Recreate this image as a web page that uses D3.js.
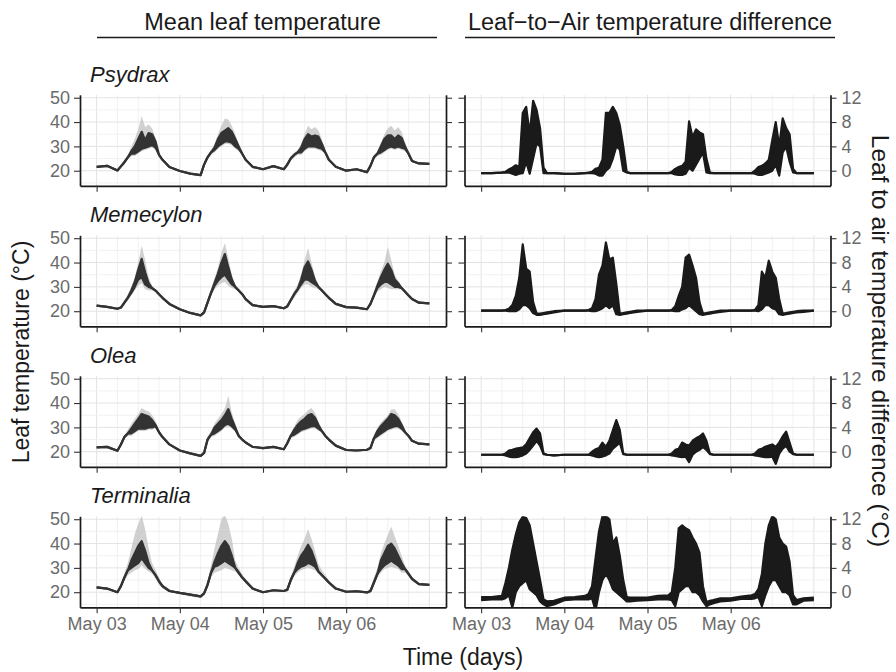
<!DOCTYPE html>
<html>
<head>
<meta charset="utf-8">
<script src="https://cdn.jsdelivr.net/npm/d3@7"></script>
<style>
  body { margin: 0; background: #fff; }
  text { font-family: "Liberation Sans", Arial, sans-serif; }
</style>
</head>
<body>
<script>
// hours since May 03 00:00 (same grid for every series)
const hours = [
  0, 3, 6, 7, 8, 9, 10, 11, 12, 13, 14, 15, 16, 17, 18, 19, 21,
  24, 27, 30, 31, 32, 33, 34, 35, 36, 37, 38, 39, 40, 41, 42, 43, 45,
  48, 51, 54, 55, 56, 57, 58, 59, 60, 61, 62, 63, 64, 65, 66, 67, 69,
  72, 75, 78, 79, 80, 81, 82, 83, 84, 85, 86, 87, 88, 89, 90, 91, 93,
  96];

const speciesNames = ["Psydrax", "Memecylon", "Olea", "Terminalia"];
const dayLabels = ["May 03", "May 04", "May 05", "May 06"];
const leafTicks = [20, 30, 40, 50];
const diffTicks = [0, 4, 8, 12];

// ---- Psydrax ----
const psydraxLo = [
  21.6,22.0,20.1,21.8,23.5,25.5,27.0,27.0,28.0,29.0,29.5,30.0,30.5,29.5,26.5,24.5,21.5,
  19.9,18.8,18.2,22.5,25.5,27.5,28.5,30.0,31.0,32.0,32.0,31.5,30.0,29.0,27.0,24.5,21.6,
  20.6,21.9,20.6,22.5,25.0,26.5,27.5,27.5,29.0,30.0,30.0,30.0,29.5,29.0,27.5,24.5,21.6,
  20.0,20.6,19.4,22.0,25.5,27.0,27.5,28.5,29.5,30.0,29.5,30.0,29.5,29.0,27.0,24.0,23.0,
  22.8];
const psydraxHi = [
  21.6,22.0,20.1,21.8,23.5,25.5,28.0,30.0,33.0,36.0,32.5,35.5,35.0,32.0,26.5,24.5,21.5,
  19.9,18.8,18.2,22.5,25.5,27.5,29.5,33.0,35.5,36.5,37.5,36.0,33.0,30.0,27.0,24.5,21.6,
  20.6,21.9,20.6,22.5,25.0,26.5,27.5,29.5,33.0,35.0,34.0,34.5,34.0,31.0,27.5,24.5,21.6,
  20.0,20.6,19.4,22.0,25.5,27.0,30.0,33.0,34.5,34.5,33.0,34.5,33.5,30.0,27.0,24.0,23.0,
  22.8];
const psydraxRibLo = [
  21.4,21.8,19.9,21.4,22.5,24.5,26.0,26.0,27.0,28.0,28.5,29.0,29.5,28.5,26.0,24.3,21.3,
  19.7,18.6,18.0,21.5,24.5,26.5,27.5,29.0,30.0,31.0,31.0,30.5,29.0,28.0,26.5,24.3,21.4,
  20.4,21.7,20.4,21.5,24.0,25.5,26.5,26.5,28.0,29.0,29.0,29.0,28.5,28.0,27.0,24.3,21.4,
  19.8,20.4,19.2,21.0,24.5,26.0,26.5,27.5,28.5,29.0,28.5,29.0,28.5,28.0,26.5,23.8,22.8,
  22.6];
const psydraxRibHi = [
  21.8,22.2,20.3,22.2,24.5,26.5,30.0,33.0,37.0,42.5,38.0,39.0,37.5,33.5,27.0,24.7,21.7,
  20.1,19.0,18.4,23.5,26.5,28.5,31.0,35.0,38.5,41.5,41.0,38.5,35.0,31.0,27.5,24.7,21.8,
  20.8,22.1,20.8,23.5,26.0,27.5,28.5,31.0,35.0,38.5,37.0,38.0,36.5,33.0,28.0,24.7,21.8,
  20.2,20.8,19.6,23.0,26.5,28.0,31.5,35.0,37.5,38.5,36.5,38.0,36.0,31.5,27.5,24.2,23.2,
  23.0];
const psydraxDiffLo = [
  -0.4,-0.4,-0.3,-0.3,-0.3,-0.5,-0.7,-0.5,-0.4,1.5,-0.5,2.0,4.5,4.0,-0.4,-0.4,-0.4,
  -0.5,-0.5,-0.4,-0.4,-0.4,-0.5,-0.8,-0.8,0.0,0.5,2.0,4.0,3.5,0.0,-0.3,-0.4,-0.4,
  -0.4,-0.4,-0.4,-0.4,-0.6,-0.7,-0.7,-0.5,0.5,0.0,1.0,2.0,3.0,-0.3,-0.4,-0.4,-0.4,
  -0.4,-0.4,-0.4,-0.5,-0.7,-0.7,-0.5,-0.3,0.0,1.0,-0.8,3.0,4.0,1.5,-0.3,-0.4,-0.4,
  -0.4];
const psydraxDiffHi = [
  -0.4,-0.4,-0.3,-0.2,0.2,0.5,0.9,0.6,9.5,10.5,6.0,11.5,10.0,7.0,0.5,-0.4,-0.4,
  -0.5,-0.5,-0.4,-0.3,-0.2,0.3,0.5,1.8,9.5,9.5,10.5,9.5,7.5,4.0,-0.2,-0.4,-0.4,
  -0.4,-0.4,-0.4,-0.2,0.3,0.6,0.8,1.5,8.1,5.5,6.8,6.3,6.0,2.0,-0.3,-0.4,-0.4,
  -0.4,-0.4,-0.4,0.0,0.6,0.8,1.2,1.8,5.0,8.0,4.0,8.6,7.0,6.0,0.3,-0.4,-0.4,
  -0.4];

// ---- Memecylon ----
const memecylonLo = [
  22.3,21.8,21.0,21.5,23.5,25.5,27.5,30.0,33.0,34.0,31.0,30.0,29.5,28.5,27.0,25.5,23.0,
  20.8,19.3,18.3,19.5,23.5,27.5,30.5,32.5,34.0,35.0,33.0,31.0,30.0,28.5,27.0,25.0,22.5,
  21.8,22.1,21.2,22.0,24.5,27.0,29.0,31.0,33.0,33.0,32.0,31.0,30.0,28.5,27.0,25.5,23.0,
  21.7,21.5,20.8,23.0,26.5,29.5,31.0,32.0,32.0,31.0,30.0,30.0,29.5,28.0,26.5,25.0,23.5,
  23.2];
const memecylonHi = [
  22.3,21.8,21.0,21.5,23.5,25.5,28.5,32.0,37.0,41.5,36.0,31.5,29.5,28.5,27.0,25.5,23.0,
  20.8,19.3,18.3,19.5,23.5,27.5,31.5,35.5,40.0,43.5,38.0,33.0,30.0,28.5,27.0,25.0,22.5,
  21.8,22.1,21.2,22.0,24.5,27.0,29.0,33.0,38.0,40.5,37.0,32.5,30.0,28.5,27.0,25.5,23.0,
  21.7,21.5,20.8,23.0,26.5,30.5,34.0,37.0,39.5,37.0,33.0,31.5,29.5,28.0,26.5,25.0,23.5,
  23.2];
const memecylonRibLo = [
  22.1,21.6,20.8,21.0,22.5,24.5,26.5,28.5,30.5,31.5,29.0,28.5,28.5,28.0,26.7,25.3,22.8,
  20.6,19.1,18.1,18.5,22.0,26.0,29.0,30.5,31.5,32.0,30.5,29.5,29.0,28.0,26.7,24.8,22.3,
  21.6,21.9,21.0,21.0,23.5,25.5,27.5,29.5,31.0,31.0,30.0,29.5,29.0,28.0,26.7,25.3,22.8,
  21.5,21.3,20.6,22.0,25.0,28.0,29.0,30.0,29.5,29.0,29.0,29.0,29.0,27.5,26.2,24.8,23.3,
  23.0];
const memecylonRibHi = [
  22.5,22.0,21.2,22.0,24.5,27.0,30.0,34.0,40.0,47.0,41.0,34.0,30.5,29.0,27.3,25.7,23.2,
  21.0,19.5,18.5,20.5,25.0,29.0,33.5,38.0,44.0,48.0,42.0,35.0,31.0,29.0,27.3,25.2,22.7,
  22.0,22.3,21.4,23.0,25.5,28.5,31.0,35.0,41.0,46.0,40.0,34.5,31.0,29.0,27.3,25.7,23.2,
  21.9,21.7,21.0,24.0,28.0,32.0,36.5,40.0,46.5,41.0,35.0,32.5,30.0,28.5,26.8,25.2,23.7,
  23.4];
const memecylonDiffLo = [
  0.1,0.1,0.1,0.1,0.0,0.0,0.0,0.3,1.0,1.0,0.5,-0.3,-0.6,-0.6,-0.5,-0.4,-0.2,
  0.1,0.1,0.1,0.1,0.0,0.0,0.2,0.5,1.0,0.5,1.0,-0.5,-0.6,-0.5,-0.4,-0.3,-0.1,
  0.1,0.1,0.1,0.1,0.0,0.0,0.3,0.5,1.0,0.5,0.0,-0.5,-0.6,-0.5,-0.4,-0.3,-0.1,
  0.1,0.1,0.1,0.1,0.0,0.3,1.0,1.0,0.5,0.3,-0.5,-0.6,-0.5,-0.4,-0.3,-0.2,-0.1,
  0.1];
const memecylonDiffHi = [
  0.1,0.1,0.1,0.2,0.4,1.0,2.5,5.5,11.0,7.0,6.5,1.5,-0.4,-0.4,-0.3,-0.2,0.0,
  0.1,0.1,0.1,0.2,0.5,2.0,6.0,7.5,11.3,8.5,8.8,4.5,-0.4,-0.3,-0.2,-0.1,0.1,
  0.1,0.1,0.1,0.2,0.8,2.5,4.0,8.8,9.3,7.5,5.5,1.5,-0.4,-0.3,-0.2,-0.1,0.1,
  0.1,0.1,0.1,0.2,1.0,6.5,5.5,8.3,6.5,5.5,2.0,-0.4,-0.3,-0.2,-0.1,0.0,0.1,
  0.1];

// ---- Olea ----
const oleaLo = [
  21.8,22.0,20.4,23.0,26.0,27.5,27.5,28.5,29.5,29.5,29.5,30.0,30.0,30.5,28.0,26.0,23.0,
  20.5,19.3,18.3,19.5,25.0,27.0,27.5,28.5,29.5,31.0,31.5,30.5,29.0,26.5,25.0,23.8,22.0,
  21.5,22.0,21.0,23.5,26.5,27.0,28.0,29.0,29.5,30.0,30.5,30.5,29.5,28.5,26.5,25.0,22.5,
  20.7,20.5,20.8,21.5,25.5,26.5,27.5,28.5,29.5,30.0,30.5,30.5,29.5,28.0,26.5,24.5,23.3,
  23.0];
const oleaHi = [
  21.8,22.0,20.4,23.0,26.0,27.5,29.5,31.5,33.5,35.5,35.0,34.5,33.0,31.0,28.0,26.0,23.0,
  20.5,19.3,18.3,19.5,25.0,27.0,30.0,31.5,33.0,35.0,37.5,33.5,30.0,26.5,25.0,23.8,22.0,
  21.5,22.0,21.0,23.5,26.5,29.0,31.0,32.5,33.5,35.0,35.5,34.0,31.0,28.5,26.5,25.0,22.5,
  20.7,20.5,20.8,21.5,25.5,28.5,30.5,32.0,33.5,35.5,35.0,33.5,31.0,28.0,26.5,24.5,23.3,
  23.0];
const oleaRibLo = [
  21.6,21.8,20.2,22.0,25.0,26.5,26.5,27.5,28.5,28.5,28.5,29.0,29.0,29.5,27.5,25.8,22.8,
  20.3,19.1,18.1,18.5,23.5,26.0,26.5,27.5,28.5,30.0,30.5,29.5,28.5,26.0,24.8,23.6,21.8,
  21.3,21.8,20.8,22.5,25.5,26.0,27.0,28.0,28.5,29.0,29.5,29.5,28.5,28.0,26.2,24.8,22.3,
  20.5,20.3,20.6,20.5,24.5,25.5,26.5,27.5,28.5,29.0,29.5,29.5,28.5,27.5,26.2,24.3,23.1,
  22.8];
const oleaRibHi = [
  22.0,22.2,20.6,24.0,27.0,29.0,31.5,33.5,35.5,38.0,37.0,36.5,35.0,32.5,28.5,26.2,23.2,
  20.7,19.5,18.5,20.5,26.5,28.5,31.5,33.5,35.5,38.0,43.0,36.0,31.5,27.0,25.2,24.0,22.2,
  21.7,22.2,21.2,24.5,27.5,30.5,33.0,34.5,35.5,37.0,38.0,36.0,32.5,29.0,26.8,25.2,22.7,
  20.9,20.7,21.0,22.5,26.5,30.0,32.0,33.5,35.0,37.5,37.5,35.5,32.5,29.0,26.8,24.7,23.5,
  23.2];
const oleaDiffLo = [
  -0.5,-0.5,-0.5,-0.6,-0.8,-0.9,-0.9,-0.8,-0.6,-0.3,0.3,1.0,1.8,1.0,-0.4,-0.5,-0.6,
  -0.5,-0.5,-0.5,-0.5,-0.6,-0.8,-0.9,-0.8,-0.6,-0.3,0.5,1.0,1.5,-0.4,-0.5,-0.5,-0.5,
  -0.5,-0.5,-0.5,-0.6,-0.7,-0.8,-0.9,-0.8,-1.7,-0.5,0.0,0.3,0.8,0.3,-0.4,-0.5,-0.5,
  -0.5,-0.5,-0.5,-0.6,-0.7,-0.8,-0.9,-0.9,-0.8,-2.0,-0.3,0.5,1.0,0.0,-0.4,-0.5,-0.5,
  -0.5];
const oleaDiffHi = [
  -0.5,-0.5,-0.5,-0.3,0.2,0.3,0.5,0.6,0.7,1.2,2.2,3.2,3.8,3.0,-0.3,-0.5,-0.6,
  -0.5,-0.5,-0.5,-0.5,0.0,0.4,0.6,1.5,0.8,1.8,3.5,5.2,3.6,-0.3,-0.5,-0.5,-0.5,
  -0.5,-0.5,-0.5,-0.3,0.3,0.5,1.5,1.2,1.0,1.8,2.2,2.5,3.0,1.8,-0.3,-0.5,-0.5,
  -0.5,-0.5,-0.5,-0.3,0.3,0.5,0.8,1.0,1.2,0.8,1.5,2.5,3.3,1.5,-0.3,-0.5,-0.5,
  -0.5];

// ---- Terminalia ----
const terminaliaLo = [
  22.0,21.5,20.0,22.5,26.0,29.0,30.0,31.0,32.0,34.0,32.0,30.0,29.0,27.0,24.5,22.5,20.5,
  19.7,19.0,18.3,19.5,23.0,28.0,30.5,31.0,32.0,33.0,32.0,31.0,30.0,28.0,26.0,24.5,21.5,
  20.0,20.8,20.5,21.0,25.0,28.0,29.5,30.5,31.0,32.0,31.5,30.5,28.5,27.0,25.5,24.0,21.5,
  20.2,20.4,19.9,20.5,24.0,27.5,29.5,31.0,32.0,33.0,32.0,31.0,29.5,29.5,27.5,25.5,23.3,
  23.0];
const terminaliaHi = [
  22.0,21.5,20.0,22.5,26.0,29.0,33.0,36.0,39.0,41.0,37.0,32.0,29.0,27.0,24.5,22.5,20.5,
  19.7,19.0,18.3,19.5,23.0,28.0,32.5,36.0,39.0,41.0,39.0,35.0,30.0,28.0,26.0,24.5,21.5,
  20.0,20.8,20.5,21.0,25.0,28.0,32.0,35.0,37.0,39.5,37.0,33.0,28.5,27.0,25.5,24.0,21.5,
  20.2,20.4,19.9,20.5,24.0,27.5,33.0,36.0,39.0,40.0,38.0,35.0,32.0,29.5,27.5,25.5,23.3,
  23.0];
const terminaliaRibLo = [
  21.8,21.3,19.8,21.5,24.5,27.0,28.0,29.0,29.5,31.0,29.5,28.5,27.5,25.5,23.0,21.5,20.0,
  19.2,18.2,17.5,18.5,21.5,26.0,28.0,28.5,29.0,30.0,29.5,29.0,28.5,27.0,25.5,23.5,21.0,
  19.7,20.6,20.3,20.0,23.5,26.5,28.0,29.0,29.5,30.0,29.5,29.0,27.5,26.5,25.0,23.5,21.0,
  20.0,20.2,19.7,19.5,22.5,26.0,28.0,29.5,30.0,30.5,30.0,29.5,28.0,28.0,26.5,24.5,23.1,
  22.8];
const terminaliaRibHi = [
  22.2,21.7,20.2,23.5,28.0,32.0,38.0,44.0,48.0,51.5,46.0,38.0,32.0,29.0,26.0,23.5,21.0,
  20.2,19.5,18.8,20.5,25.0,31.0,38.0,44.0,50.0,52.0,48.0,42.0,33.0,30.0,27.5,25.5,22.0,
  20.3,21.0,20.7,22.0,26.5,30.5,35.0,39.0,42.0,46.0,42.0,37.0,31.5,29.0,27.0,25.0,22.0,
  20.4,20.6,20.1,21.5,26.0,30.0,36.0,40.0,43.5,47.0,43.0,39.0,35.0,31.0,28.5,26.5,23.5,
  23.2];
const terminaliaDiffLo = [
  -1.3,-1.2,-1.2,-1.0,-0.5,-2.5,0.0,1.0,1.5,2.0,0.5,0.0,-0.5,-1.5,-2.0,-2.3,-2.0,
  -1.3,-1.2,-1.2,-1.2,-1.0,-3.0,0.0,2.0,3.0,2.0,0.5,0.0,-0.5,-1.0,-1.5,-1.5,-1.4,
  -1.3,-1.2,-1.2,-1.3,-2.3,0.0,0.5,1.0,1.0,0.0,0.0,-0.5,-1.5,-2.3,-2.0,-1.8,-1.5,
  -1.4,-1.1,-1.1,-1.0,-0.8,-2.3,-0.5,1.0,2.0,2.0,1.0,0.0,0.0,-0.5,-2.0,-2.0,-1.4,
  -1.3];
const terminaliaDiffHi = [
  -0.8,-0.8,-0.6,1.5,4.0,7.0,9.5,11.5,12.4,12.2,11.0,8.0,5.0,2.0,-1.2,-1.5,-1.4,
  -0.9,-0.8,-0.6,-0.3,1.0,5.5,10.0,12.5,12.5,12.0,8.0,9.0,6.0,2.0,-0.8,-0.9,-0.9,
  -0.9,-0.6,-0.5,0.0,4.0,10.5,11.0,10.5,10.2,9.0,8.0,6.5,1.0,-1.6,-1.4,-1.3,-1.0,
  -1.0,-0.7,-0.5,-0.3,0.5,3.0,8.0,11.0,12.5,12.0,9.0,8.0,7.5,5.0,-0.5,-1.3,-1.0,
  -0.9];

const panels = [
  {name: speciesNames[0], lo: psydraxLo, hi: psydraxHi, rlo: psydraxRibLo, rhi: psydraxRibHi, dlo: psydraxDiffLo, dhi: psydraxDiffHi},
  {name: speciesNames[1], lo: memecylonLo, hi: memecylonHi, rlo: memecylonRibLo, rhi: memecylonRibHi, dlo: memecylonDiffLo, dhi: memecylonDiffHi},
  {name: speciesNames[2], lo: oleaLo, hi: oleaHi, rlo: oleaRibLo, rhi: oleaRibHi, dlo: oleaDiffLo, dhi: oleaDiffHi},
  {name: speciesNames[3], lo: terminaliaLo, hi: terminaliaHi, rlo: terminaliaRibLo, rhi: terminaliaRibHi, dlo: terminaliaDiffLo, dhi: terminaliaDiffHi}
];

const H_MS = 3600 * 1000;
const start = Date.UTC(2019, 4, 3);
const toDate = h => new Date(start + h * H_MS);

const svg = d3.select("body").append("svg")
    .attr("width", 896).attr("height", 672);

const cols = [{x0: 80, x1: 446}, {x0: 464.5, x1: 830.5}];
const panelH = 91, firstTop = 94.8, rowStep = 140.5;
const leafDomain = [13.8, 51.2];
const diffDomain = leafDomain.map(v => (v - 20) / 2.5);
const font = "'Liberation Sans', Arial, sans-serif";

function styleAxis(g, size) {
    g.attr("font-family", font).attr("font-size", size);
    g.select(".domain").attr("stroke", "#1a1a1a").attr("stroke-width", 1.7);
    g.selectAll(".tick line").attr("stroke", "#333").attr("stroke-width", 1.1);
    g.selectAll(".tick text").attr("fill", "#6b6b6b");
}

panels.forEach((p, k) => {
    const top = firstTop + rowStep * k;
    const bottom = top + panelH;
    const isLast = k === panels.length - 1;

    cols.forEach((c, side) => {
        const x = d3.scaleUtc()
            .domain([toDate(-4.8), toDate(100.8)])
            .range([c.x0, c.x1]);
        const y = d3.scaleLinear()
            .domain(side === 0 ? leafDomain : diffDomain)
            .range([bottom, top]);
        const g = svg.append("g");
        const clipId = "clip" + k + "_" + side;
        g.append("clipPath").attr("id", clipId)
            .append("rect").attr("x", c.x0).attr("y", top)
            .attr("width", c.x1 - c.x0).attr("height", panelH);

        // grid
        const vLines = d3.utcHour.every(6).range(toDate(0), toDate(96.1));
        g.selectAll(".vg").data(vLines).join("line")
            .attr("x1", d => x(d)).attr("x2", d => x(d))
            .attr("y1", top).attr("y2", bottom)
            .attr("stroke", d => d.getUTCHours() === 0 ? "#e3e3e3" : "#eeeeee")
            .attr("stroke-width", d => d.getUTCHours() === 0 ? 1 : 0.8);
        const hVals = side === 0 ? [15, 20, 25, 30, 35, 40, 45, 50] : [-2, 0, 2, 4, 6, 8, 10, 12];
        const majors = side === 0 ? leafTicks : diffTicks;
        g.selectAll(".hg").data(hVals).join("line")
            .attr("x1", c.x0).attr("x2", c.x1)
            .attr("y1", d => y(d)).attr("y2", d => y(d))
            .attr("stroke", d => majors.includes(d) ? "#e3e3e3" : "#eeeeee")
            .attr("stroke-width", d => majors.includes(d) ? 1 : 0.8);

        const plot = g.append("g").attr("clip-path", "url(#" + clipId + ")");
        const idx = d3.range(hours.length);
        if (side === 0) {
            plot.append("path").datum(idx)
                .attr("fill", "#bdbdbd").attr("fill-opacity", 0.7)
                .attr("d", d3.area().x(i => x(toDate(hours[i]))).y0(i => y(p.rlo[i])).y1(i => y(p.rhi[i])));
            plot.append("path").datum(idx)
                .attr("fill", "#333")
                .attr("d", d3.area().x(i => x(toDate(hours[i]))).y0(i => y(p.lo[i])).y1(i => y(p.hi[i])));
            [p.lo, p.hi].forEach(arr => {
                plot.append("path").datum(idx)
                    .attr("fill", "none").attr("stroke", "#333").attr("stroke-width", 2.2)
                    .attr("stroke-linejoin", "round")
                    .attr("d", d3.line().x(i => x(toDate(hours[i]))).y(i => y(arr[i])));
            });
        } else {
            plot.append("path").datum(idx)
                .attr("fill", "#1a1a1a")
                .attr("d", d3.area().x(i => x(toDate(hours[i]))).y0(i => y(p.dlo[i])).y1(i => y(p.dhi[i])));
            [p.dlo, p.dhi].forEach(arr => {
                plot.append("path").datum(idx)
                    .attr("fill", "none").attr("stroke", "#1a1a1a").attr("stroke-width", 2.2)
                    .attr("stroke-linejoin", "round")
                    .attr("d", d3.line().x(i => x(toDate(hours[i]))).y(i => y(arr[i])));
            });
        }

        // axes
        const ticks = side === 0 ? leafTicks : diffTicks;
        const leftAx = d3.axisLeft(y).tickValues(ticks).tickSize(6).tickSizeOuter(0).tickPadding(4);
        const rightAx = d3.axisRight(y).tickValues(ticks).tickSize(6).tickSizeOuter(0).tickPadding(5);
        if (side === 0) rightAx.tickFormat("");
        else leftAx.tickFormat("");
        g.append("g").attr("transform", `translate(${c.x0},0)`).call(leftAx).call(a => styleAxis(a, 18));
        g.append("g").attr("transform", `translate(${c.x1},0)`).call(rightAx).call(a => styleAxis(a, 18));

        const dayTicks = d3.utcDay.range(toDate(0), toDate(96));
        const xAx = d3.axisBottom(x).tickValues(dayTicks).tickSize(6).tickSizeOuter(0).tickPadding(4)
            .tickFormat((d, i) => isLast ? dayLabels[i] : "");
        g.append("g").attr("transform", `translate(0,${bottom})`).call(xAx).call(a => styleAxis(a, 18));

        if (side === 0) {
            svg.append("text").attr("x", 90).attr("y", top - 13)
                .attr("font-size", 22).attr("font-style", "italic").attr("fill", "#1a1a1a")
                .text(p.name);
        }
    });
});

// column headers
const headers = [
    {text: "Mean leaf temperature", cx: 262.5, x0: 97, x1: 437},
    {text: "Leaf\u2212to\u2212Air temperature difference", cx: 650, x0: 465, x1: 835}
];
headers.forEach(h => {
    svg.append("text").attr("x", h.cx).attr("y", 30).attr("text-anchor", "middle")
        .attr("font-size", 23.5).attr("fill", "#1a1a1a").text(h.text);
    svg.append("line").attr("x1", h.x0).attr("x2", h.x1).attr("y1", 37.5).attr("y2", 37.5)
        .attr("stroke", "#1a1a1a").attr("stroke-width", 1.3);
});

// axis titles
svg.append("text").attr("transform", "translate(29,352) rotate(-90)")
    .attr("text-anchor", "middle").attr("font-size", 23).attr("fill", "#1a1a1a")
    .text("Leaf temperature (\u00B0C)");
svg.append("text").attr("transform", "translate(872,341) rotate(90)")
    .attr("text-anchor", "middle").attr("font-size", 24.5).attr("fill", "#1a1a1a")
    .text("Leaf to air temperature difference (\u00B0C)");
svg.append("text").attr("x", 463).attr("y", 665).attr("text-anchor", "middle")
    .attr("font-size", 23).attr("fill", "#1a1a1a").text("Time (days)");
</script>
</body>
</html>
